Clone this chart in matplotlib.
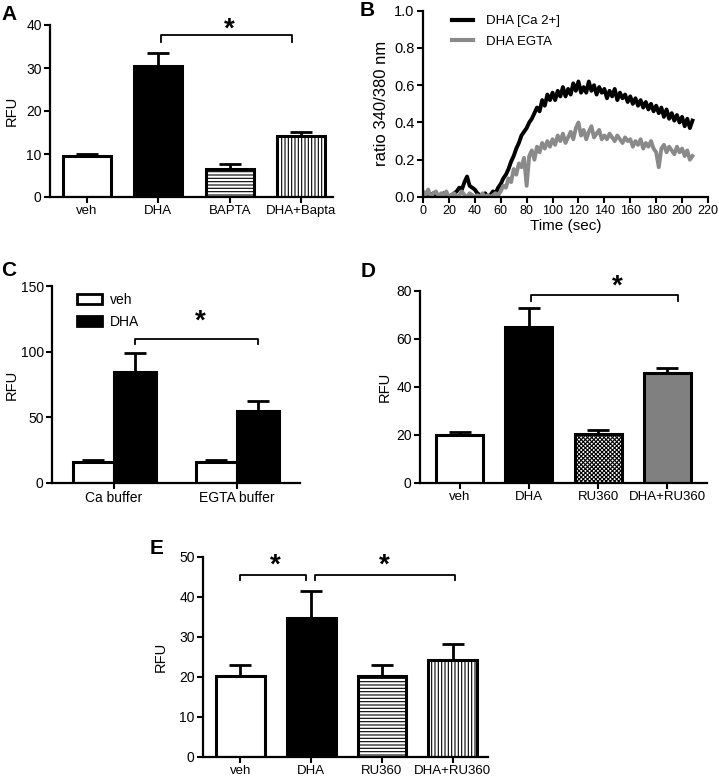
import numpy as np
import matplotlib
matplotlib.use("Agg")
import matplotlib.pyplot as plt
from matplotlib.patches import Patch
from matplotlib.lines import Line2D

plt.rcParams['font.family'] = ['Liberation Sans', 'DejaVu Sans']
plt.rcParams['hatch.linewidth'] = 0.8

# ---- data ----
# panel A
a_labels = ["veh", "DHA", "BAPTA", "DHA+Bapta"]
a_mean = [9.5, 30.5, 6.5, 14.2]
a_err = [0.4, 2.9, 1.1, 1.0]

# panel B (ratio traces, one value every 2 s)
b_time = np.arange(0, 209, 2)
b_ca = [0.01, 0.02, 0.00, 0.01, 0.02, 0.01, 0.00, 0.01, 0.02, 0.01, 0.00, 0.01,
        0.02, 0.03, 0.05, 0.04, 0.08, 0.11, 0.06, 0.05,
        0.04, 0.02, 0.01, 0.00, 0.02, 0.00, 0.01, 0.03, 0.02,
        0.05, 0.07, 0.10, 0.12, 0.15, 0.19, 0.22, 0.26, 0.29, 0.33, 0.35,
        0.37, 0.40, 0.42, 0.45, 0.48, 0.46, 0.52, 0.49, 0.55, 0.52,
        0.56, 0.52, 0.57, 0.54, 0.59, 0.54, 0.58, 0.55, 0.61, 0.57,
        0.62, 0.56, 0.59, 0.56, 0.62, 0.57, 0.60, 0.55, 0.59, 0.56,
        0.58, 0.53, 0.57, 0.54, 0.58, 0.52, 0.56, 0.53, 0.55, 0.51,
        0.54, 0.50, 0.53, 0.49, 0.52, 0.48, 0.51, 0.47, 0.50, 0.46,
        0.49, 0.45, 0.48, 0.43, 0.47, 0.42, 0.45, 0.41, 0.44, 0.40,
        0.43, 0.38, 0.42, 0.37, 0.41]
b_egta = [0.03, 0.01, 0.04, 0.00, 0.02, 0.03, 0.00, 0.02, 0.01, 0.03, 0.00, 0.01,
          0.02, 0.00, 0.01, 0.03, 0.01, 0.00, 0.02, 0.01,
          0.00, 0.01, 0.00, 0.02, 0.00, 0.01, 0.00, 0.01, 0.02,
          0.01, 0.03, 0.06, 0.05, 0.10, 0.08, 0.15, 0.12, 0.18, 0.16, 0.21,
          0.06, 0.22, 0.25, 0.20, 0.27, 0.24, 0.29, 0.26, 0.30, 0.27,
          0.31, 0.28, 0.33, 0.30, 0.34, 0.29, 0.32, 0.35, 0.31, 0.37,
          0.40, 0.33, 0.36, 0.31, 0.35, 0.38, 0.32, 0.34, 0.36, 0.31,
          0.33, 0.31, 0.34, 0.32, 0.30, 0.33, 0.31, 0.29, 0.32, 0.30,
          0.31, 0.27, 0.30, 0.28, 0.31, 0.26, 0.29, 0.27, 0.30, 0.26,
          0.24, 0.16, 0.26, 0.28, 0.24, 0.27, 0.25, 0.23, 0.27, 0.24,
          0.26, 0.22, 0.25, 0.20, 0.22]

# panel C
c_groups = ["Ca buffer", "EGTA buffer"]
c_veh = [15.8, 15.8]
c_veh_err = [1.7, 1.7]
c_dha = [84.7, 54.8]
c_dha_err = [14.5, 7.6]

# panel D
d_labels = ["veh", "DHA", "RU360", "DHA+RU360"]
d_mean = [20.0, 64.9, 20.5, 45.7]
d_err = [1.3, 7.9, 1.4, 2.3]

# panel E
e_labels = ["veh", "DHA", "RU360", "DHA+RU360"]
e_mean = [20.3, 34.8, 20.3, 24.2]
e_err = [2.7, 6.7, 2.7, 4.0]

W, H = 719, 777
fig = plt.figure(figsize=(W / 100, H / 100), dpi=100)


def px_axes(left, top, right, bottom):
    return fig.add_axes([left / W, 1 - bottom / H, (right - left) / W, (bottom - top) / H])


def style(ax):
    for s in ["top", "right"]:
        ax.spines[s].set_visible(False)
    for s in ["left", "bottom"]:
        ax.spines[s].set_linewidth(1.6)
    ax.tick_params(width=1.5, length=4, labelsize=10, pad=2)


def bars(ax, x, means, errs, fills, hatches, width):
    for xi, m, f, h in zip(x, means, fills, hatches):
        ax.bar(xi, m, width=width, color=f, edgecolor="black", linewidth=2.2, hatch=h, zorder=2)
    ax.errorbar(x, means, yerr=[np.zeros(len(means)), errs], fmt="none", ecolor="black",
                elinewidth=2, capsize=8, capthick=2, zorder=3)


def bracket(ax, x1, x2, y, drop, star_x, star_y):
    ax.plot([x1, x1, x2, x2], [y - drop, y, y, y - drop], color="black", lw=1.3, clip_on=False)
    ax.text(star_x, star_y, "*", ha="center", va="center", fontsize=20, fontweight="bold",
            clip_on=False)


def letter(x, y, s):
    fig.text(x / W, 1 - y / H, s, fontsize=15, fontweight="bold", va="top", ha="left")


# ---- A ----
axA = px_axes(50, 25, 333, 197)
style(axA)
xa = np.arange(4)
bars(axA, xa, a_mean, a_err, ["white", "black", "white", "white"], [None, None, "-----", "|||||"], 0.67)
axA.set_xlim(-0.52, 3.45)
axA.set_ylim(0, 40)
axA.set_yticks([0, 10, 20, 30, 40])
axA.set_xticks(xa)
axA.set_xticklabels(a_labels, fontsize=9.5)
axA.set_ylabel("RFU", fontsize=10.5, labelpad=5)
bracket(axA, 1.04, 2.87, 37.7, 1.6, 1.99, 39.0)
letter(1, 5, "A")

# ---- B ----
axB = px_axes(423, 10.7, 708, 197)
style(axB)
axB.plot(b_time, b_ca, color="black", lw=2.8)
axB.plot(b_time, b_egta, color="#8a8a8a", lw=2.8)
axB.set_xlim(0, 220)
axB.set_ylim(0, 1.0)
axB.set_xticks(np.arange(0, 221, 20))
axB.tick_params(axis="x", labelsize=9)
axB.set_yticks([0.0, 0.2, 0.4, 0.6, 0.8, 1.0])
axB.set_yticklabels(["0.0", "0.2", "0.4", "0.6", "0.8", "1.0"])
axB.tick_params(axis="y", labelsize=10.5)
axB.set_xlabel("Time (sec)", fontsize=11, labelpad=1)
axB.set_ylabel("ratio 340/380 nm", fontsize=12, labelpad=4)
axB.legend(handles=[Line2D([], [], color="black", lw=3, label="DHA [Ca 2+]"),
                    Line2D([], [], color="#8a8a8a", lw=3, label="DHA EGTA")],
           loc="upper left", bbox_to_anchor=(0.06, 1.04), frameon=False, fontsize=9.5,
           handlelength=1.6, handletextpad=1.0, labelspacing=0.6)
letter(360, 1, "B")

# ---- C ----
axC = px_axes(52, 286, 300, 483)
style(axC)
xc = np.arange(2)
bw = 0.337
bars(axC, xc - bw / 2, c_veh, c_veh_err, ["white", "white"], [None, None], bw)
bars(axC, xc + bw / 2, c_dha, c_dha_err, ["black", "black"], [None, None], bw)
axC.set_xlim(-0.504, 1.51)
axC.set_ylim(0, 150)
axC.set_yticks([0, 50, 100, 150])
axC.set_xticks(xc)
axC.set_xticklabels(c_groups, fontsize=10)
axC.set_ylabel("RFU", fontsize=10.5, labelpad=1)
bracket(axC, bw / 2, 1 + bw / 2, 110, 4, 0.70, 123)
axC.legend(handles=[Patch(facecolor="white", edgecolor="black", lw=2, label="veh"),
                    Patch(facecolor="black", edgecolor="black", lw=2, label="DHA")],
           loc="upper left", bbox_to_anchor=(0.05, 1.03), frameon=False, fontsize=10,
           handlelength=1.8, handleheight=0.7, handletextpad=0.6, labelspacing=0.6)
letter(1, 261, "C")

# ---- D ----
axD = px_axes(420, 291, 707, 483)
style(axD)
xd = np.arange(4)
bars(axD, xd, d_mean, d_err, ["white", "black", "white", "#808080"], [None, None, "xxxxxxxx", None], 0.68)
axD.set_xlim(-0.57, 3.57)
axD.set_ylim(0, 80)
axD.set_yticks([0, 20, 40, 60, 80])
axD.set_xticks(xd)
axD.set_xticklabels(d_labels, fontsize=9.5)
axD.set_ylabel("RFU", fontsize=10.5, labelpad=3)
bracket(axD, 1.03, 3.15, 78.3, 2.5, 2.27, 82.0)
letter(361, 262, "D")

# ---- E ----
axE = px_axes(203, 557, 488, 757)
style(axE)
xe = np.arange(4)
bars(axE, xe, e_mean, e_err, ["white", "black", "white", "white"], [None, None, "-----", "|||||"], 0.69)
axE.set_xlim(-0.53, 3.50)
axE.set_ylim(0, 50)
axE.set_yticks([0, 10, 20, 30, 40, 50])
axE.set_xticks(xe)
axE.set_xticklabels(e_labels, fontsize=9.5)
axE.set_ylabel("RFU", fontsize=10.5, labelpad=8)
bracket(axE, 0.0, 0.93, 45.5, 1.3, 0.49, 47.8)
bracket(axE, 1.06, 3.03, 45.5, 1.3, 2.04, 47.8)
letter(150, 539, "E")

fig.savefig("out.png", dpi=100)
